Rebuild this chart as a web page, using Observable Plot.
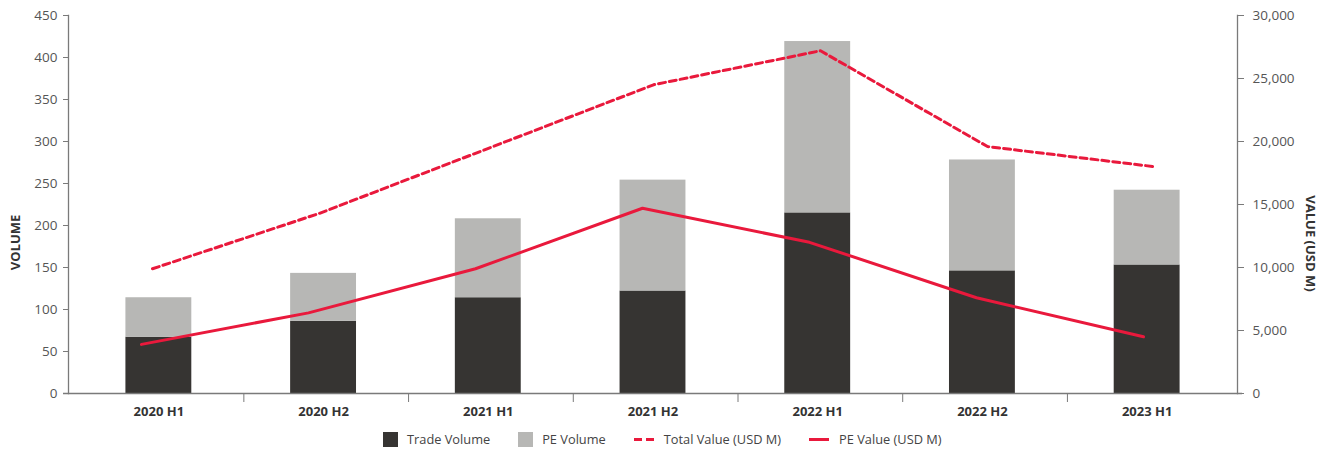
<!DOCTYPE html>
<html><head><meta charset="utf-8">
<script src="https://cdn.jsdelivr.net/npm/d3@7"></script>
<script src="https://cdn.jsdelivr.net/npm/@observablehq/plot@0.6"></script>
<style>
body{margin:0;background:#fff;font-family:'Open Sans',sans-serif;}
#wrap{position:relative;width:1344px;height:425px;}
#wrap svg{position:absolute;left:0;top:0;}
#legend{position:relative;height:34px;width:1344px;}
#legend .items{position:absolute;left:383px;top:5px;display:flex;align-items:center;gap:28px;font-size:12.8px;color:#444;}
#legend .item{display:flex;align-items:center;gap:9px;}
#legend .item.ln{gap:10px;}
</style></head><body>
<div id="wrap"></div>
<div id="legend"><div class="items"></div></div>
<script>
const periods = ["2020 H1","2020 H2","2021 H1","2021 H2","2022 H1","2022 H2","2023 H1"];
const tradeVolume = [67, 86, 114, 122, 215, 146, 153];
const peVolume = [47, 57, 94, 132, 204, 132, 89];
const totalValue = [9900, 14300, 19400, 24500, 27200, 19600, 18000];
const peValue = [3900, 6400, 9900, 14700, 12000, 7600, 4500];
const seriesNames = ["Trade Volume","PE Volume","Total Value (USD M)","PE Value (USD M)"];
const volumeTicks = d3.range(0, 451, 50);
const valueTicks = d3.range(0, 30001, 5000);

const DARK = "#363432", GRAY = "#b7b7b5", RED = "#e9193c", AXIS = "#7a7a7a";
const W = 1344, H = 425, mT = 15, mB = 32, mL = 68, mR = 107;
const font = "'Open Sans', sans-serif";
const baseStyle = {fontFamily: font, fontSize: "13.5px", color: "#555", background: "transparent", overflow: "visible"};

const barData = periods.flatMap((p, i) => [
  {period: p, series: seriesNames[0], value: tradeVolume[i]},
  {period: p, series: seriesNames[1], value: peVolume[i]}
]);

const main = Plot.plot({
  width: W, height: H, marginTop: mT, marginBottom: mB, marginLeft: mL, marginRight: mR,
  style: baseStyle,
  x: {domain: periods, insetLeft: 8, insetRight: 8, paddingInner: 0.6, paddingOuter: 0.3, round: false, label: null},
  y: {domain: [0, 450], label: null},
  color: {domain: seriesNames.slice(0, 2), range: [DARK, GRAY]},
  marks: [
    Plot.barY(barData, {x: "period", y: "value", fill: "series"}),
    Plot.ruleY([0], {stroke: AXIS, strokeWidth: 1.3, insetLeft: -5, insetRight: -5}),
    Plot.frame({anchor: "left", stroke: AXIS, strokeWidth: 1.3}),
    Plot.frame({anchor: "right", stroke: AXIS, strokeWidth: 1.3}),
    Plot.axisY(volumeTicks, {tickSize: 5, tickPadding: 6, label: null, stroke: AXIS, fill: "#555"}),
    Plot.axisX({tickSize: 0, tickPadding: 13, label: null, fontWeight: "bold", fill: "#333", fontSize: 13}),
    Plot.axisX(periods.slice(0, -1), {tickSize: 9, tickFormat: () => "", dx: 85, label: null, stroke: AXIS}),
    Plot.text(["VOLUME"], {frameAnchor: "left", textAnchor: "middle", rotate: -90, dx: -53, dy: 38, fontWeight: "bold", fill: "#333", fontSize: 13})
  ]
});

const peLine = Plot.plot({
  width: W, height: H, marginTop: mT, marginBottom: mB, marginLeft: mL, marginRight: mR,
  style: baseStyle,
  x: {type: "point", domain: periods, padding: 0, insetLeft: 70, insetRight: 92, label: null, axis: null},
  y: {domain: [0, 30000], label: null},
  marks: [
    Plot.lineY(periods.map((p, i) => ({period: p, v: peValue[i]})), {x: "period", y: "v", stroke: RED, strokeWidth: 3}),
    Plot.axisY(valueTicks, {anchor: "right", tickSize: 6, tickPadding: 9, tickFormat: d3.format(",.0f"), label: null, stroke: AXIS, fill: "#555"}),
    Plot.text(["VALUE (USD M)"], {frameAnchor: "right", textAnchor: "middle", rotate: 90, dx: 73, dy: 39, fontWeight: "bold", fill: "#333", fontSize: 13})
  ]
});

const totalLine = Plot.plot({
  width: W, height: H, marginTop: mT, marginBottom: mB, marginLeft: mL, marginRight: mR,
  style: baseStyle,
  x: {type: "point", domain: periods, padding: 0, insetLeft: 83, insetRight: 83, label: null, axis: null},
  y: {domain: [0, 30000], label: null, axis: null},
  marks: [
    Plot.lineY(periods.map((p, i) => ({period: p, v: totalValue[i]})), {x: "period", y: "v", stroke: RED, strokeWidth: 3, strokeDasharray: "7,4"})
  ]
});

const wrap = document.getElementById("wrap");
wrap.append(main, peLine, totalLine);

// legend
const items = document.querySelector("#legend .items");
const swatches = [
  `<svg width="15" height="15"><rect width="15" height="15" fill="${DARK}"/></svg>`,
  `<svg width="15" height="15"><rect width="15" height="15" fill="${GRAY}"/></svg>`,
  `<svg width="20" height="15"><line x1="0" x2="20" y1="7.5" y2="7.5" stroke="${RED}" stroke-width="3" stroke-dasharray="8,4"/></svg>`,
  `<svg width="20" height="15"><line x1="0" x2="20" y1="7.5" y2="7.5" stroke="${RED}" stroke-width="3"/></svg>`
];
seriesNames.forEach((name, i) => {
  const d = document.createElement("div");
  d.className = i >= 2 ? "item ln" : "item";
  d.innerHTML = swatches[i] + `<span>${name}</span>`;
  items.append(d);
});
</script>
</body></html>
